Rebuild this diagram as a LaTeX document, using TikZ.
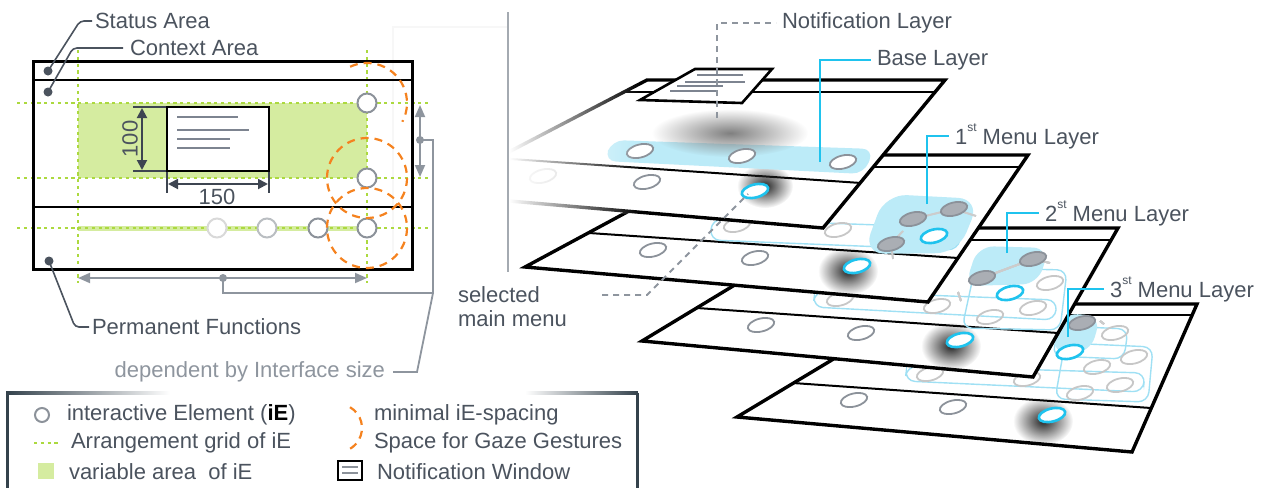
\documentclass[tikz,border=0pt]{standalone}
\usepackage{fontspec}
\setmainfont{Liberation Sans}
\usetikzlibrary{arrows.meta,fadings}

\definecolor{ink}{HTML}{4B535E}
\definecolor{iegray}{HTML}{8C929A}
\definecolor{softgray}{HTML}{8E959E}
\definecolor{gridgreen}{HTML}{ACD93F}
\definecolor{areagreen}{HTML}{D5ECA0}
\definecolor{gazeorange}{HTML}{F5821F}
\definecolor{dimink}{HTML}{3E4551}
\definecolor{cyanline}{HTML}{1FC3EE}
\definecolor{cyanfill}{HTML}{BCEBF8}
\definecolor{cyanpale}{HTML}{9FE0F4}
\definecolor{framegray}{HTML}{34424C}
\definecolor{menugray}{HTML}{AAAEB4}
\definecolor{winline}{HTML}{7D8490}

\tikzfading[name=softspot, inner color=transparent!0, outer color=transparent!100]

\newcommand\ordsup[1]{\raisebox{0.6em}{\fontsize{6}{6}\selectfont #1}}
\newcommand\menuoval[2]{\path[#1] (#2) circle[x radius=13.5, y radius=6.5, rotate=14];}

\begin{document}
\begin{tikzpicture}[x=0.5pt,y=-0.5pt,
  every node/.style={inner sep=0pt, outer sep=0pt, text=ink, font=\fontsize{11}{12}\selectfont},
  txt/.style={anchor=west},
  leader/.style={draw=ink, line width=0.8pt, rounded corners=2pt, shorten >=1.5pt},
  gridline/.style={draw=gridgreen, line width=0.8pt, dash pattern=on 1.6pt off 1.8pt},
  iering/.style={draw=iegray, line width=1pt, fill=white},
  gazering/.style={draw=gazeorange, line width=1.1pt, dash pattern=on 4pt off 3pt},
  dimline/.style={draw=dimink, line width=1pt, {Triangle[length=5pt,width=5pt]}-{Triangle[length=5pt,width=5pt]}},
  dimtick/.style={draw=dimink, line width=0.8pt},
  sizeline/.style={draw=softgray, line width=0.9pt},
  sizearrow/.style={draw=softgray, line width=0.9pt, {Triangle[length=6pt,width=5pt]}-{Triangle[length=6pt,width=5pt]}},
  layerframe/.style={draw=black, fill=white, line width=1.7pt, line join=miter},
  layerrule/.style={draw=black, line width=1pt},
  ovgray/.style={draw=iegray, fill=white, line width=0.9pt},
  ovfaint/.style={draw=black!22, line width=0.9pt},
  ovdark/.style={draw=iegray, fill=menugray, line width=0.9pt},
  ovcyan/.style={draw=cyanline, fill=white, line width=1.3pt},
  menublob/.style={fill=cyanfill, rounded corners=8pt},
  menuband/.style={draw=cyanpale, line width=0.7pt, rounded corners=5pt},
  menulink/.style={draw=black!20, line width=0.9pt},
  calloutline/.style={draw=cyanline, line width=1pt, shorten >=3pt},
  pointer/.style={draw=softgray, line width=0.9pt, dash pattern=on 3pt off 2.5pt, shorten >=3pt},
  shadowspot/.style={fill=black!85, path fading=softspot},
]
\useasboundingbox (0,0) rectangle (1261,487);

% ---------------- screen layout (left) ----------------
\draw[black!3, line width=0.8pt] (393,253) -- (393,27) -- (508,27);

\fill[areagreen] (78,103) rectangle (367,178);
\fill[areagreen] (78,226) rectangle (367,231);
\foreach \y in {103,178,228} \draw[gridline] (17,\y) -- (430,\y);
\foreach \x in {78,367} \draw[gridline] (\x,50) -- (\x,283);

\draw[line width=1.5pt] (33,61) rectangle (412,269);
\draw[line width=0.8pt] (33,80) -- (412,80);
\draw[line width=1pt] (33,207) -- (412,207);

% notification window with its size
\draw[line width=1pt, fill=white] (167,107) rectangle (269,171);
\draw[winline, line width=1.3pt] (177,117) -- (238,117);
\draw[winline, line width=0.8pt] (177,130) -- (249,130) (177,139) -- (230,139) (177,148) -- (230,148);

\draw[dimtick] (133,107) -- (166,107) (133,171) -- (166,171);
\draw[dimline] (142,108) -- (142,170);
\node[rotate=90] (h100) at (130,139) {100};
\draw[dimtick] (167,172) -- (167,193) (269,172) -- (269,193);
\draw[dimline] (168,184) -- (268,184);
\node (w150) at (217,197) {150};

% interactive elements
\draw[iering] (367,103) circle[radius=9.5];
\draw[iering] (367,178) circle[radius=9.5];
\draw[iering] (367,228) circle[radius=9.5];
\draw[iering] (318,228) circle[radius=9.5];
\draw[iering, draw=iegray!60] (267,228) circle[radius=9.5];
\draw[iering, draw=black!15] (217,228) circle[radius=9.5];

% gaze spacing
\draw[gazering] (367,103) ++(-115:40) arc[start angle=-115, end angle=28, radius=40];
\draw[gazering] (367,178) circle[radius=40];
\draw[gazering] (367,228) circle[radius=40];

% size depends on the interface
\coordinate (vtop) at (420,105);
\coordinate (vbot) at (420,177);
\coordinate (vdot) at (420,140);
\coordinate (hleft) at (78,278);
\coordinate (hright) at (367,278);
\coordinate (hdot) at (223,278);
\draw[sizearrow] (vtop) -- (vbot);
\draw[sizearrow] (hleft) -- (hright);
\fill[softgray] (vdot) circle[radius=4];
\fill[softgray] (hdot) circle[radius=4];
\node[anchor=east, text=softgray] (dep) at (385,372) {dependent by Interface size};
\draw[sizeline] (vdot) -- (433,140) -- (433,293) -- (223,293) -- (hdot);
\draw[sizeline, shorten >=4pt] (433,293) -- (417,372) -- (dep);

% area leaders
\coordinate (sdot) at (48,71);
\coordinate (cdot) at (48,92);
\coordinate (pdot) at (49,261);
\foreach \p in {sdot,cdot,pdot} \fill[ink] (\p) circle[radius=4.5];
\node[txt] (stat) at (95,21) {Status Area};
\node[txt] (ctx) at (130,48) {Context Area};
\node[txt] (perm) at (92,327) {Permanent Functions};
\draw[leader] (sdot) -- (80,21) -- (stat);
\draw[leader, shorten >=3.5pt] (cdot) -- (73,48) -- (ctx);
\draw[leader] (pdot) -- (75,327) -- (perm);

% ---------------- legend ----------------
\draw[framegray, line width=1.5pt] (7,393) -- (7,500);
\draw[framegray, line width=1.5pt] (637,393) -- (637,500);
\shade[left color=framegray, right color=white] (6.2,391.5) rectangle (170,394.5);
\shade[left color=white, right color=framegray] (525,391.5) rectangle (637.8,394.5);

\draw[iering] (42,415) circle[radius=7];
\node[txt] (lg1) at (67,415) {interactive Element (\textbf{\color{black}iE})};
\draw[gridline] (34,443) -- (58,443);
\node[txt] (lg2) at (71,443) {Arrangement grid of iE};
\fill[areagreen] (38,463) rectangle (54,479);
\node[txt] (lg3) at (69,472) {variable area\ \ of iE};
\draw[gazering] (350,407.2) arc[start angle=-60, end angle=60, radius=24];
\node[txt] (lg4) at (374,415) {minimal iE-spacing};
\node[txt] (lg5) at (374,443) {Space for Gaze Gestures};
\draw[line width=1pt] (338,461) rectangle (362,480);
\draw[iegray, line width=0.9pt] (342,467) -- (358,467) (342,473) -- (358,473);
\node[txt] (lg6) at (377,472) {Notification Window};

% ---------------- menu layers (right) ----------------
\begin{scope}
\clip (510,0) rectangle (1261,487);

% 3rd menu layer
\path[layerframe] (925,304) -- (1197,304) -- (1132,452) -- (737,417) -- cycle;
\draw[layerrule] (907,315) -- (1192,315);
\draw[layerrule] (793,383) -- (1151,408);
\menuoval{ovgray}{854,400}
\menuoval{ovgray}{953,407}
\fill[shadowspot] (1043,421) ellipse[x radius=30, y radius=24];
\menuoval{ovcyan}{1052,415}
\path[menuband] (907,366) -- (1145,373) -- (1143,392) -- (905,381) -- cycle;
\path[menuband] (1065,343) -- (1153,347) -- (1148,402) -- (1055,399) -- cycle;
\path[menuband] (1060,326) -- (1128,329) -- (1124,359) -- (1052,356) -- cycle;
\path[menublob] (1062,313) -- (1101,316) -- (1090,353) -- (1051,353) -- cycle;
\foreach \c in {{1115,333},{1134,357},{1097,367},{1120,385},{1080,393},{930,374},{1027,379}}
  \menuoval{ovfaint}{\c}
\draw[menulink] (1100,321) -- (1104,324);
\menuoval{ovdark}{1082,323}
\menuoval{ovcyan}{1070,352}

% 2nd menu layer
\path[layerframe] (829,228) -- (1118,228) -- (1033,377) -- (642,341) -- cycle;
\draw[layerrule] (809,240) -- (1111,240);
\draw[layerrule] (697,308) -- (1058,333);
\menuoval{ovgray}{761,325}
\menuoval{ovgray}{861,333}
\fill[shadowspot] (951,346) ellipse[x radius=30, y radius=24];
\menuoval{ovcyan}{960,340}
\path[menuband] (815,291) -- (1057,300) -- (1055,320) -- (813,307) -- cycle;
\path[menuband] (975,268) -- (1067,270) -- (1060,330) -- (962,328) -- cycle;
\path[menublob] (978,246) -- (1049,248) -- (1038,284) -- (965,286) -- cycle;
\foreach \c in {{1050,283},{937,306},{1033,308},{990,317},{840,299}}
  \menuoval{ovfaint}{\c}
\draw[menulink] (982,278) -- (1033,259) (1033,259) -- (1050,263) (958,292) -- (961,301);
\menuoval{ovdark}{1033,259}
\menuoval{ovdark}{982,278}
\menuoval{ovcyan}{1010,293}

% 1st menu layer
\path[layerframe] (733,155) -- (1028,155) -- (928,302) -- (525,267) -- cycle;
\draw[layerrule] (711,167) -- (1020,167);
\draw[layerrule] (589,233) -- (958,258);
\menuoval{ovgray}{653,250}
\menuoval{ovgray}{755,258}
\fill[shadowspot] (848,271) ellipse[x radius=30, y radius=24];
\menuoval{ovcyan}{857,266}
\path[menuband] (712,219) -- (962,228) -- (958,250) -- (710,240) -- cycle;
\path[menublob, rounded corners=11pt] (885,194) -- (980,199) -- (958,253) -- (863,254) -- cycle;
\foreach \c in {{737,225},{838,230}}
  \menuoval{ovfaint}{\c}
\draw[menulink] (913,219) -- (954,209) (954,209) -- (976,216) (891,244) -- (903,231) (891,244) -- (893,259);
\menuoval{ovdark}{913,219}
\menuoval{ovdark}{954,209}
\menuoval{ovdark}{891,244}
\menuoval{ovcyan}{934,236}

% base layer
\path[layerframe] (647,80) -- (945,80) -- (823,228) -- (428,194) -- cycle;
\draw[layerrule] (624,92) -- (935,92);
\draw[layerrule] (496,158) -- (861,183);
\menuoval{ovfaint}{543,176}
\menuoval{ovgray}{647,182}
\fill[shadowspot] (765,186) ellipse[x radius=28, y radius=22];
\menuoval{ovcyan}{755,191}
\path[menublob, rounded corners=6pt] (612,140) -- (874,149) -- (864,174) -- (604,161) -- cycle;
\fill[black!50, path fading=softspot] (730,133) ellipse[x radius=78, y radius=24];
\menuoval{ovgray}{640,151}
\menuoval{ovgray}{742,156}
\menuoval{ovgray}{843,162}

% notification on the base layer
\path[draw=black, fill=white, line width=1.3pt] (695,69) -- (772,69) -- (742,103) -- (640,100) -- cycle;
\draw[winline, line width=1.3pt] (697,75) -- (743,75);
\draw[winline, line width=0.8pt] (685,82) -- (745,82) (677,86) -- (723,86) (670,91) -- (717,91);

% left side of the base layer fades out
\fill[white, path fading=east] (509,55) rectangle (640,214);
\end{scope}

\draw[softgray!80, line width=1pt] (508,12) -- (508,272);

% layer labels
\node[txt] (nlay) at (782,23) {Notification Layer};
\coordinate (nwin) at (717,118);
\draw[pointer] (nwin) |- (nlay);

\node[txt] (blay) at (877,60) {Base Layer};
\coordinate (bstrip) at (820,162);
\draw[calloutline] (bstrip) |- (blay);

\node[txt] (m1) at (955,136) {1\ordsup{st} Menu Layer};
\coordinate (m1root) at (927,204);
\draw[calloutline] (m1root) |- (m1);

\node[txt] (m2) at (1045,213) {2\ordsup{st} Menu Layer};
\coordinate (m2root) at (1007,253);
\draw[calloutline] (m2root) |- (m2);

\node[txt] (m3) at (1110,289) {3\ordsup{st} Menu Layer};
\coordinate (m3root) at (1068,337);
\draw[calloutline] (m3root) |- (m3);

\node[anchor=north west, align=left] (sel) at (458,287) {selected\\main menu};
\coordinate (selstart) at (602,295);
\coordinate (selbend) at (647,295);
\coordinate (selitem) at (748,194);
\draw[pointer, shorten >=0pt] (selstart) -- (selbend) -- (selitem);
\end{tikzpicture}
\end{document}
